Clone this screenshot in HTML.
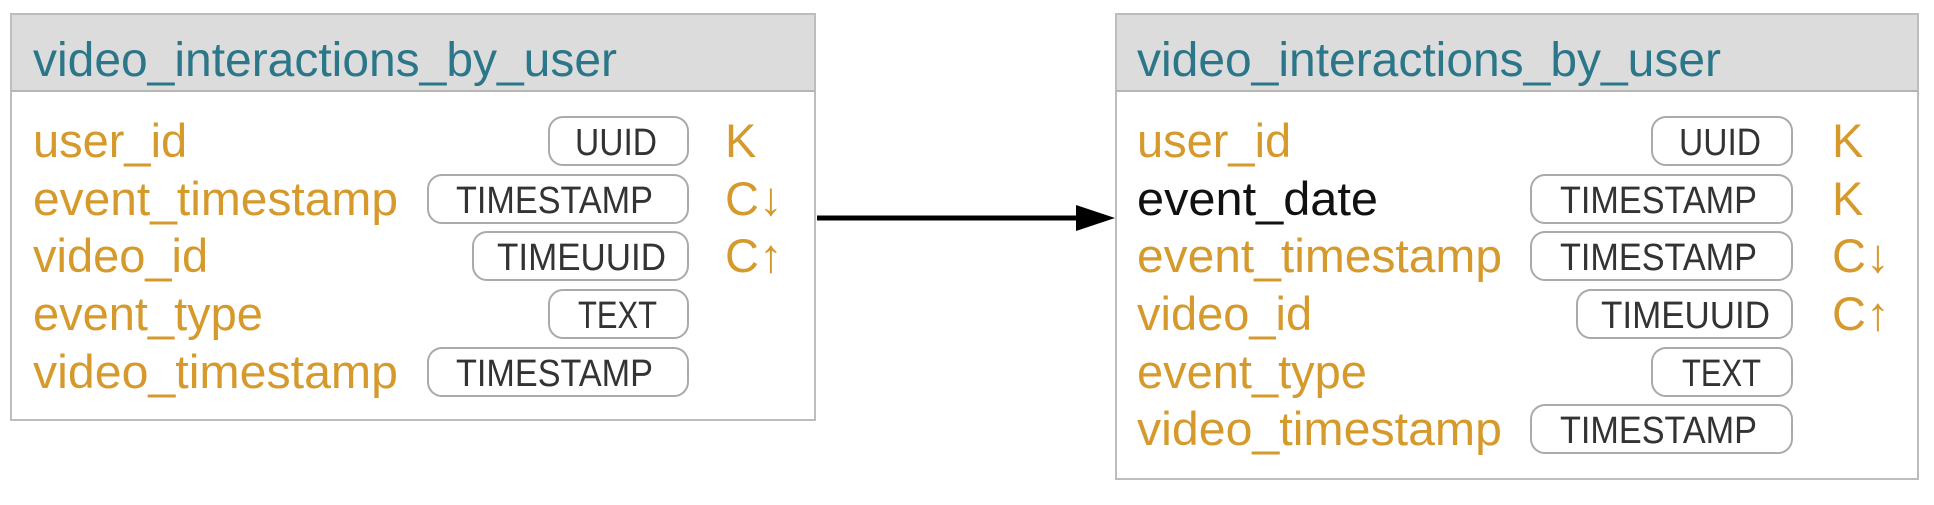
<!DOCTYPE html>
<html><head><meta charset="utf-8"><style>
html,body{margin:0;padding:0;background:#fff;}
svg{display:block;}
text{font-family:"Liberation Sans",Arial,sans-serif;}
.t{fill:#2b7688;font-size:48px;}
.f{fill:#d69a2c;font-size:47px;}
.b{fill:#111;font-size:47px;}
.k{fill:#d69a2c;font-size:47px;}
.p{fill:none;stroke:#aaa;stroke-width:2;}
.pt{fill:#333;font-size:38px;text-anchor:end;}
</style></head><body>
<svg width="1934" height="505" viewBox="0 0 1934 505" xmlns="http://www.w3.org/2000/svg">
<!-- left table -->
<rect x="11" y="14" width="804" height="77" fill="#dcdcdc"/>
<rect x="11" y="14" width="804" height="406" fill="none" stroke="#bdbdbd" stroke-width="2"/>
<line x1="11" y1="91" x2="815" y2="91" stroke="#b5b5b5" stroke-width="2"/>
<text class="t" x="33" y="76" textLength="584" lengthAdjust="spacingAndGlyphs">video_interactions_by_user</text>

<text class="f" x="33" y="157">user_id</text>
<rect class="p" x="549" y="117" width="139" height="48" rx="14"/>
<text class="pt" x="657" y="155" textLength="82" lengthAdjust="spacingAndGlyphs">UUID</text>
<text class="k" x="725" y="157">K</text>

<text class="f" x="33" y="215" textLength="365" lengthAdjust="spacingAndGlyphs">event_timestamp</text>
<rect class="p" x="428" y="175" width="260" height="48" rx="14"/>
<text class="pt" x="653" y="213" textLength="197" lengthAdjust="spacingAndGlyphs">TIMESTAMP</text>
<text class="k" x="725" y="215">C↓</text>

<text class="f" x="33" y="272">video_id</text>
<rect class="p" x="473" y="232" width="215" height="48" rx="14"/>
<text class="pt" x="666" y="270" textLength="169" lengthAdjust="spacingAndGlyphs">TIMEUUID</text>
<text class="k" x="725" y="272">C↑</text>

<text class="f" x="33" y="330">event_type</text>
<rect class="p" x="549" y="290" width="139" height="48" rx="14"/>
<text class="pt" x="657" y="328" textLength="79" lengthAdjust="spacingAndGlyphs">TEXT</text>

<text class="f" x="33" y="388" textLength="365" lengthAdjust="spacingAndGlyphs">video_timestamp</text>
<rect class="p" x="428" y="348" width="260" height="48" rx="14"/>
<text class="pt" x="653" y="386" textLength="197" lengthAdjust="spacingAndGlyphs">TIMESTAMP</text>

<!-- arrow -->
<line x1="817" y1="218" x2="1080" y2="218" stroke="#000" stroke-width="5"/>
<polygon points="1076,205 1115,218 1076,231" fill="#000"/>

<!-- right table -->
<rect x="1116" y="14" width="802" height="77" fill="#dcdcdc"/>
<rect x="1116" y="14" width="802" height="465" fill="none" stroke="#bdbdbd" stroke-width="2"/>
<line x1="1116" y1="91" x2="1918" y2="91" stroke="#b5b5b5" stroke-width="2"/>
<text class="t" x="1137" y="76" textLength="584" lengthAdjust="spacingAndGlyphs">video_interactions_by_user</text>

<text class="f" x="1137" y="157">user_id</text>
<rect class="p" x="1652" y="117" width="140" height="48" rx="14"/>
<text class="pt" x="1761" y="155" textLength="82" lengthAdjust="spacingAndGlyphs">UUID</text>
<text class="k" x="1832" y="157">K</text>

<text class="b" x="1137" y="215" textLength="241" lengthAdjust="spacingAndGlyphs">event_date</text>
<rect class="p" x="1531" y="175" width="261" height="48" rx="14"/>
<text class="pt" x="1757" y="213" textLength="197" lengthAdjust="spacingAndGlyphs">TIMESTAMP</text>
<text class="k" x="1832" y="215">K</text>

<text class="f" x="1137" y="272" textLength="365" lengthAdjust="spacingAndGlyphs">event_timestamp</text>
<rect class="p" x="1531" y="232" width="261" height="48" rx="14"/>
<text class="pt" x="1757" y="270" textLength="197" lengthAdjust="spacingAndGlyphs">TIMESTAMP</text>
<text class="k" x="1832" y="272">C↓</text>

<text class="f" x="1137" y="330">video_id</text>
<rect class="p" x="1577" y="290" width="215" height="48" rx="14"/>
<text class="pt" x="1770" y="328" textLength="169" lengthAdjust="spacingAndGlyphs">TIMEUUID</text>
<text class="k" x="1832" y="330">C↑</text>

<text class="f" x="1137" y="388">event_type</text>
<rect class="p" x="1652" y="348" width="140" height="48" rx="14"/>
<text class="pt" x="1761" y="386" textLength="79" lengthAdjust="spacingAndGlyphs">TEXT</text>

<text class="f" x="1137" y="445" textLength="365" lengthAdjust="spacingAndGlyphs">video_timestamp</text>
<rect class="p" x="1531" y="405" width="261" height="48" rx="14"/>
<text class="pt" x="1757" y="443" textLength="197" lengthAdjust="spacingAndGlyphs">TIMESTAMP</text>
</svg>
</body></html>
